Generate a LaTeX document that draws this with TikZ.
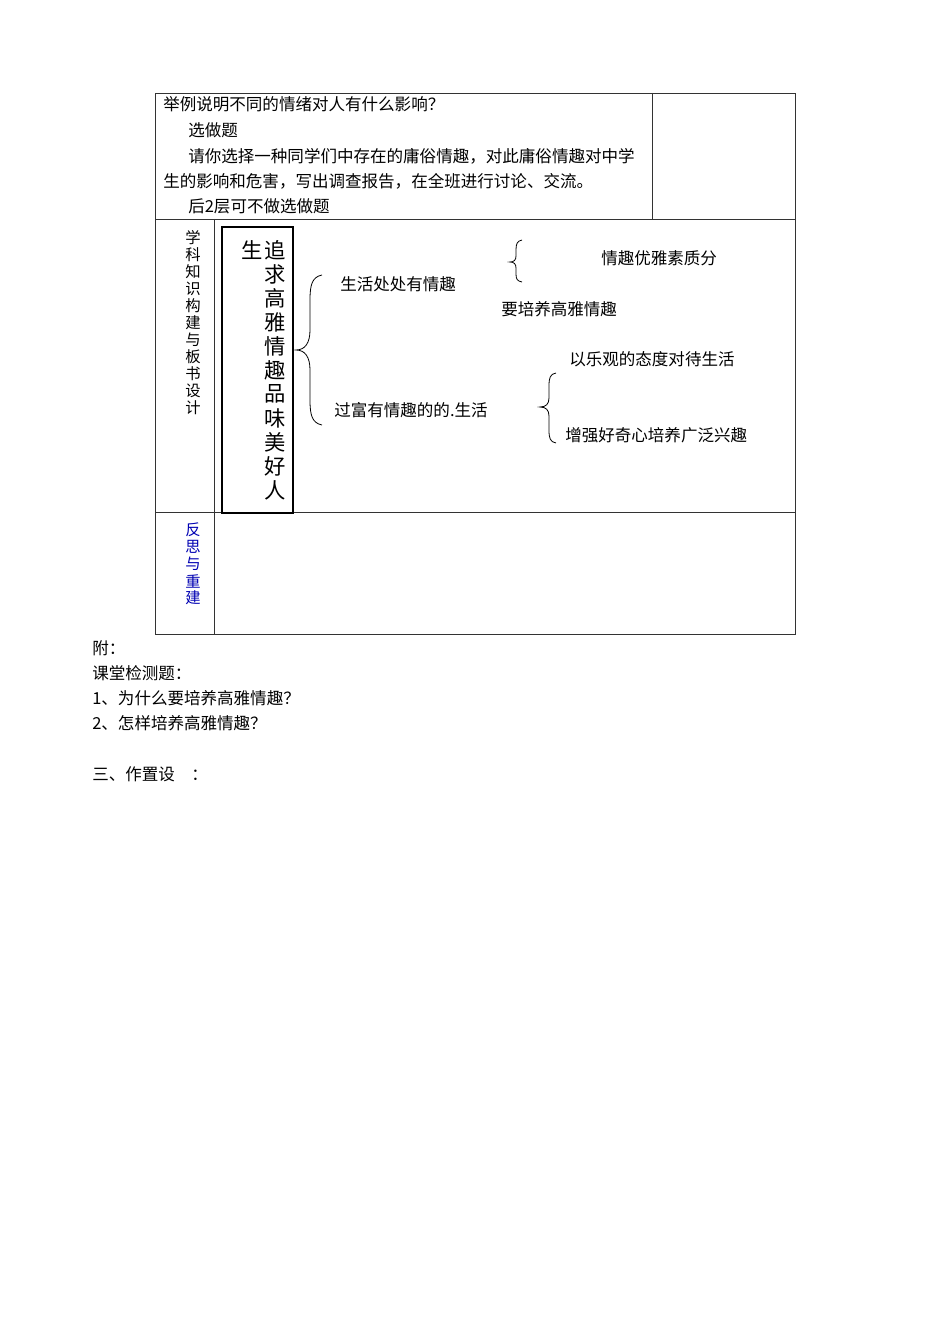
\documentclass[tikz,border=0pt]{standalone}
\usepackage{fontspec}
\setmainfont{Noto Sans CJK SC}
\usepackage{tikz}
\usetikzlibrary{positioning}
\begin{document}
\begin{tikzpicture}[%
  x=0.75pt,
  y=-0.75pt,
  txt/.style={anchor=west,inner sep=0pt,font=\fontsize{12.4}{13}\selectfont},
  vchar/.style={inner sep=0pt,font=\fontsize{11.5}{13}\selectfont},
  bigchar/.style={inner sep=0pt,font=\fontsize{16}{18}\selectfont},
  rule/.style={draw=black!80,line width=0.6pt},
  brc/.style={draw,line width=0.6pt}
  ]
  \useasboundingbox (0,0) rectangle (950,1344);
  %% Table
  \draw[rule] (155,93) rectangle (795,634);
  \draw[rule] (155,219) -- (795,219);
  \draw[rule] (155,512) -- (795,512);
  \draw[rule] (652,93) -- (652,219);
  \draw[rule] (214,219) -- (214,634);
  %% Top row
  \node[txt] (q1) at (163,104) {举例说明不同的情绪对人有什么影响？};
  \node[txt] (q2) at (188,130) {选做题};
  \node[txt] (q3) at (188,156) {请你选择一种同学们中存在的庸俗情趣，对此庸俗情趣对中学};
  \node[txt] (q4) at (163,181) {生的影响和危害，写出调查报告，在全班进行讨论、交流。};
  \node[txt] (q5) at (188,206) {后2层可不做选做题};
  %% Side labels
  \foreach \c [count=\i] in {学,科,知,识,构,建,与,板,书,设,计}
    \node[vchar] (side\i) at (193,221+17*\i) {\c};
  \foreach \c [count=\i] in {反,思,与,重,建}
    \node[vchar,text=blue!70!black] (refl\i) at (193,513+17*\i) {\c};
  %% Title box
  \draw[line width=0.8pt] (222,227) rectangle (293,513);
  \node[bigchar] (sheng) at (252,250) {生};
  \foreach \c [count=\i] in {追,求,高,雅,情,趣,品,味,美,好,人}
    \node[bigchar] (title\i) at (275,226+24*\i) {\c};
  %% Braces
  \draw[brc] (322,275) .. controls (312,277) and (310,285) .. (310,300) -- (310,330)
    .. controls (310,343) and (305,350) .. (296,350)
    .. controls (305,350) and (310,357) .. (310,370) -- (310,400)
    .. controls (310,415) and (312,423) .. (322,425);
  \draw[brc] (522,240) .. controls (517,241) and (516,244) .. (516,250) -- (516,256)
    .. controls (516,260) and (514,262) .. (510,262)
    .. controls (514,262) and (516,264) .. (516,268) -- (516,274)
    .. controls (516,279) and (517,281) .. (522,282);
  \draw[brc] (556,373) .. controls (550,374) and (549,378) .. (549,386) -- (549,398)
    .. controls (549,404) and (546,407) .. (540,407)
    .. controls (546,407) and (549,410) .. (549,416) -- (549,430)
    .. controls (549,438) and (550,442) .. (556,443);
  %% Board texts
  \node[txt] (b1) at (340,284) {生活处处有情趣};
  \node[txt] (b2) at (334,410) {过富有情趣的的.生活};
  \node[txt] (b3) at (601,258) {情趣优雅素质分};
  \node[txt] (b4) at (501,309) {要培养高雅情趣};
  \node[txt] (b5) at (569,359) {以乐观的态度对待生活};
  \node[txt] (b6) at (565,435) {增强好奇心培养广泛兴趣};
  %% Below table
  \node[txt] (f1) at (92,648) {附：};
  \node[txt] (f2) at (92,673) {课堂检测题：};
  \node[txt] (f3) at (92,698) {1、为什么要培养高雅情趣？};
  \node[txt] (f4) at (92,723) {2、怎样培养高雅情趣？};
  \node[txt] (f5) at (92,774) {三、作置设\quad ：};
\end{tikzpicture}
\end{document}
